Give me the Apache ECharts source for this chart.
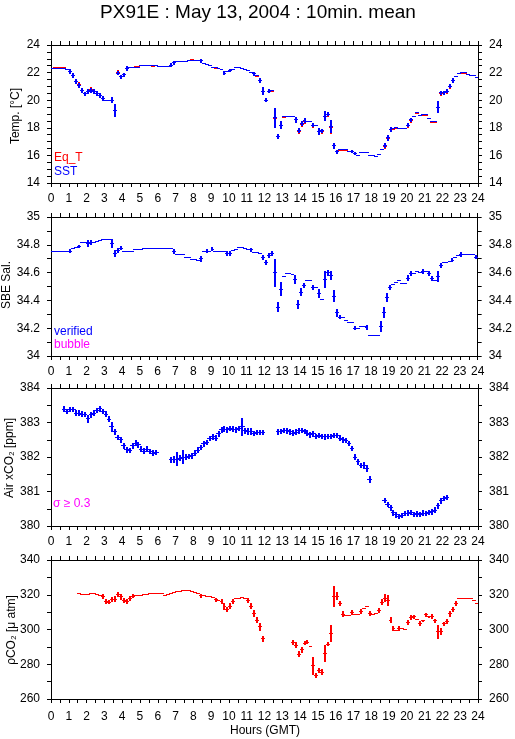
<!DOCTYPE html>
<html>
<head>
<meta charset="utf-8">
<title>PX91E : May 13, 2004 : 10min. mean</title>
<script src="https://cdn.jsdelivr.net/npm/echarts@6/dist/echarts.min.js"></script>
<style>
  html, body { margin: 0; padding: 0; background: #fff; }
  #main { width: 515px; height: 739px; }
</style>
</head>
<body>
<div id="main"></div>
<script>
// 10 min bins, 144 per day (null = no data)
var sst = [
  22.28, 22.28, 22.28, 22.28, 22.28, 22.22,
  22.05, 21.8, 21.38, 21.1, 20.7, 20.45,
  20.6, 20.7, 20.6, 20.5, 20.35, 20.15,
  20.0, 20.0, 20.0, 19.25, 21.95, 21.7,
  21.85, 22.3, 22.37, 22.37, 22.38, 22.4,
  22.5, 22.5, 22.5, 22.5, 22.5, 22.5,
  22.47, 22.45, 22.45, 22.45, 22.55, 22.7,
  22.8, 22.8, 22.8, 22.82, 22.88, 22.9,
  22.9, 22.9, 22.85, 22.68, 22.58, 22.5,
  22.4, 22.35, 22.33, 22.25, 21.95, 22.1,
  22.15, 22.2, 22.37, 22.37, 22.3, 22.25,
  22.15, 22.0, 21.9, 21.77, 21.43, 20.66,
  20.0, 20.66, 20.7, 18.74, 17.34, 18.18,
  18.8, 18.85, 18.85, 18.8, 18.57, 17.8,
  18.3, 18.52, 18.45, 18.45, 18.2, 18.15,
  17.7, 17.77, 18.85, 19.0, 18.1, 16.7,
  16.26, 16.43, 16.43, 16.43, 16.28, 16.28,
  16.16, 16.0, 16.24, 16.24, 16.24, 15.97,
  15.97, 15.9, 16.04, 16.43, 16.72, 17.27,
  17.87, 17.92, 17.99, 17.97, 17.97, 17.97,
  18.2, 18.57, 18.8, 19.1, 18.9, 18.95,
  18.95, 18.7, 18.45, 18.43, 19.5, 20.53,
  20.55, 20.66, 21.02, 21.43, 21.74, 21.93,
  21.98, 21.98, 21.86, 21.77, 21.77, 21.62
];
var eqT = [
  22.28, 22.35, 22.35, 22.35, 22.35, 22.22,
  22.05, 21.8, 21.38, 21.17, 20.7, 20.45,
  20.6, 20.77, 20.6, 20.5, 20.35, 20.15,
  20.0, 20.0, 20.0, 19.25, 22.02, 21.7,
  21.85, 22.3, 22.37, 22.37, 22.45, 22.47,
  22.5, 22.5, 22.5, 22.5, 22.45, 22.5,
  22.47, 22.45, 22.45, 22.45, 22.55, 22.7,
  22.8, 22.8, 22.8, 22.82, 22.88, 22.95,
  22.9, 22.85, 22.85, 22.68, 22.58, 22.5,
  22.4, 22.3, 22.33, 22.2, 21.95, 22.05,
  22.15, 22.2, 22.37, 22.37, 22.3, 22.25,
  22.15, 22.0, 21.9, 21.72, 21.43, 20.66,
  20.0, 20.66, 20.65, 18.7, 17.34, 18.18,
  18.75, 18.85, 18.85, 18.8, 18.57, 17.75,
  18.25, 18.47, 18.45, 18.45, 18.15, 18.15,
  17.7, 17.72, 18.85, 18.95, 18.05, 16.7,
  16.26, 16.38, 16.38, 16.38, 16.28, 16.28,
  16.16, 16.0, 16.24, 16.24, 16.24, 15.97,
  15.97, 15.9, 16.04, 16.43, 16.67, 17.22,
  17.87, 17.87, 17.94, 17.97, 17.97, 17.97,
  18.15, 18.52, 18.8, 19.05, 18.9, 18.9,
  18.9, 18.65, 18.4, 18.38, 19.5, 20.48,
  20.55, 20.61, 20.97, 21.43, 21.69, 21.93,
  21.93, 21.93, 21.86, 21.77, 21.77, 21.62
];
var salinity = [
  34.75, 34.75, 34.75, 34.75, 34.75, 34.75,
  34.755, 34.77, 34.78, 34.79, 34.82, 34.82,
  34.81, 34.82, 34.82, 34.825, 34.83, 34.835,
  34.835, 34.835, 34.81, 34.74, 34.76, 34.775,
  34.755, 34.755, 34.755, 34.755, 34.765, 34.765,
  34.765, 34.77, 34.77, 34.775, 34.775, 34.775,
  34.775, 34.775, 34.775, 34.775, 34.775, 34.755,
  34.727, 34.727, 34.727, 34.71, 34.71, 34.695,
  34.695, 34.685, 34.7, 34.75, 34.755, 34.755,
  34.767, 34.755, 34.755, 34.755, 34.755, 34.74,
  34.74, 34.76, 34.767, 34.78, 34.78, 34.775,
  34.765, 34.765, 34.745, 34.745, 34.74, 34.71,
  34.67, 34.725, 34.74, 34.6, 34.35, 34.48,
  34.575, 34.59, 34.59, 34.585, 34.55, 34.37,
  34.46, 34.51, 34.54, 34.54, 34.49, 34.49,
  34.45, 34.41, 34.55, 34.6, 34.58, 34.43,
  34.31, 34.28, 34.28, 34.255, 34.24, 34.24,
  34.2, 34.2, 34.21, 34.21, 34.205, 34.15,
  34.15, 34.15, 34.15, 34.21, 34.31, 34.42,
  34.49, 34.515, 34.53, 34.54, 34.52, 34.52,
  34.56, 34.59, 34.59, 34.61, 34.6, 34.61,
  34.61, 34.59, 34.56, 34.545, 34.575, 34.65,
  34.67, 34.67, 34.68, 34.69, 34.71, 34.72,
  34.73, 34.73, 34.73, 34.73, 34.727, 34.71
];
var airXco2 = [
  null, null, null, null, 383.39, 383.32,
  383.37, 383.37, 383.27, 383.27, 383.24, 383.23,
  383.11, 383.22, 383.27, 383.35, 383.4, 383.32,
  383.24, 383.1, 382.87, 382.73, 382.57, 382.5,
  382.32, 382.21, 382.19, 382.32, 382.4, 382.35,
  382.23, 382.17, 382.23, 382.16, 382.11, 382.13,
  null, null, null, null, 381.92, 381.94,
  381.94, 381.97, 382.0, 382.0, 382.01, 382.03,
  382.11, 382.2, 382.28, 382.38, 382.42, 382.54,
  382.58, 382.55, 382.67, 382.79, 382.81, 382.79,
  382.82, 382.81, 382.79, 382.82, 382.87, 382.76,
  382.74, 382.73, 382.68, 382.71, 382.71, 382.71,
  null, null, null, null, 382.73, 382.74,
  382.77, 382.76, 382.73, 382.69, 382.72, 382.76,
  382.77, 382.74, 382.69, 382.64, 382.67, 382.6,
  382.62, 382.6, 382.58, 382.6, 382.6, 382.62,
  382.63, 382.55, 382.5, 382.48, 382.39, 382.25,
  382.0, 381.86, 381.75, 381.75, 381.67, 381.35,
  null, null, null, null, 380.74, 380.62,
  380.53, 380.38, 380.32, 380.27, 380.31, 380.36,
  380.37, 380.39, 380.33, 380.35, 380.34, 380.37,
  380.36, 380.39, 380.41, 380.46, 380.58, 380.73,
  380.8, 380.83, null, null, null, null,
  null, null, null, null, null, null
];
var pco2 = [
  null, null, null, null, null, null,
  null, null, null, 320.9, 320.3, 320.0,
  320.2, 320.7, 320.7, 320.4, 319.8, 318.8,
  316.1, 315.8, 317.1, 317.4, 320.0, 318.8,
  316.5, 316.1, 318.0, 319.2, 319.3, 319.6,
  319.8, 320.3, 320.4, 320.5, 320.9, 320.9,
  320.9, 320.5, 319.8, 319.9, 320.7, 321.5,
  322.1, 322.1, 322.2, 322.6, 322.6, 322.0,
  321.4, 320.5, 319.3, 319.6, 319.1, 319.0,
  318.3, 317.0, 316.9, 316.2, 313.3, 311.7,
  313.4, 316.1, 317.6, 318.0, 318.6, 318.0,
  316.7, 313.5, 309.1, 305.4, 301.5, 294.7,
  null, null, null, null, null, null,
  null, null, null, 292.6, 291.0, 285.8,
  288.3, 292.2, 292.8, 290.4, 279.1, 273.5,
  276.4, 275.4, 286.2, 291.6, 297.8, 319.0,
  319.0, 315.1, 308.8, 308.0, 308.2, 309.7,
  308.6, 308.6, 310.3, 312.2, 313.0, 309.3,
  308.8, 309.0, 311.1, 315.7, 318.0, 316.7,
  305.3, 300.7, 299.7, 300.7, 300.7, 299.9,
  304.1, 306.8, 307.2, 305.5, 303.6, 304.9,
  308.4, 307.2, 307.6, 304.9, 298.8, 298.8,
  303.2, 304.5, 309.0, 311.5, 315.1, 318.0,
  318.0, 318.0, 318.0, 317.6, 316.6, 315.0
];

// standard deviations: [bin, sd]; other bins use the default
var sstErr = [[6,0.18],[7,0.18],[8,0.18],[9,0.18],[10,0.18],[11,0.18],[12,0.18],[13,0.18],[14,0.18],
  [15,0.18],[16,0.18],[17,0.18],[20,0.2],[21,0.45],[22,0.15],[23,0.15],[24,0.15],[25,0.15],[40,0.12],
  [41,0.12],[50,0.12],[58,0.15],[60,0.12],[68,0.15],[70,0.15],[71,0.3],[72,0.15],[73,0.15],[75,0.72],
  [76,0.18],[77,0.3],[82,0.2],[83,0.18],[84,0.18],[85,0.18],[88,0.15],[90,0.25],[91,0.15],[92,0.35],
  [93,0.15],[94,0.5],[95,0.2],[96,0.15],[101,0.12],[102,0.12],[112,0.18],[113,0.2],[114,0.18],
  [120,0.15],[121,0.15],[130,0.45],[131,0.15],[132,0.15],[133,0.15],[134,0.15],[135,0.15]];
var salErr = [[6,0.012],[9,0.012],[12,0.025],[13,0.018],[20,0.03],[21,0.025],[22,0.018],[23,0.015],
  [41,0.018],[50,0.022],[52,0.015],[54,0.015],[59,0.018],[60,0.018],[67,0.015],[71,0.02],[72,0.018],
  [73,0.018],[74,0.018],[75,0.1],[76,0.035],[77,0.05],[82,0.035],[83,0.035],[84,0.03],[85,0.018],
  [88,0.018],[90,0.03],[92,0.06],[93,0.022],[94,0.03],[95,0.045],[96,0.03],[97,0.015],[102,0.015],
  [106,0.015],[111,0.04],[112,0.04],[113,0.03],[114,0.018],[120,0.022],[121,0.018],[125,0.018],
  [127,0.018],[128,0.018],[130,0.04],[131,0.018],[135,0.015],[138,0.015],[143,0.015]];
var airErr = [[4,0.1],[12,0.11],[16,0.09],[20,0.14],[41,0.1],[42,0.2],[44,0.2],[64,0.27],[66,0.1],
  [67,0.1],[88,0.09],[102,0.09],[105,0.1],[106,0.1],[107,0.09],[114,0.09],[117,0.08]];
var pco2Err = [[17,1.5],[18,1.6],[19,1.3],[20,1.5],[21,1.6],[22,1.5],[23,1.8],[24,1.5],[25,1.3],
  [26,1.5],[27,1.3],[50,1.3],[55,1.3],[57,1.5],[58,1.8],[59,1.5],[60,1.7],[61,1.5],[66,1.3],
  [67,1.6],[68,2.0],[69,1.6],[70,2.2],[71,1.8],[81,1.3],[82,1.8],[83,1.8],[84,1.8],[85,1.3],
  [86,1.3],[88,5.3],[89,1.3],[90,1.5],[91,1.6],[92,5.0],[93,1.3],[94,5.0],[95,5.8],[96,2.3],
  [97,1.5],[98,1.8],[101,1.3],[104,1.3],[107,1.3],[110,1.5],[111,1.8],[112,2.2],[113,3.3],
  [114,1.8],[115,1.5],[117,1.3],[120,1.5],[121,1.3],[122,1.3],[124,1.3],[126,1.3],[128,1.3],
  [129,1.3],[130,4.0],[131,1.8],[132,1.3],[133,1.5],[134,1.6],[135,1.5],[136,1.5]];

var hourTicks = [0, 24];

var FONT = '"Liberation Sans", Arial, Helvetica, sans-serif';
var BLUE = '#0000ff', RED = '#ff0000', MAGENTA = '#ff00ff';

function points(vals, sdDefault, sdList) {
  var sd = {};
  sdList.forEach(function (p) { sd[p[0]] = p[1]; });
  var out = [];
  for (var i = 0; i < vals.length; i++) {
    if (vals[i] == null) continue;
    out.push([(i + 0.5) / 6, vals[i], sd[i] != null ? sd[i] : sdDefault]);
  }
  return out;
}

// cross: horizontal arm = time bin (1px), vertical arm = +-sd (2px)
function crossSeries(name, gi, data, color, hw) {
  return {
    type: 'custom',
    name: name,
    xAxisIndex: 2 * gi,
    yAxisIndex: 2 * gi,
    clip: true,
    data: data,
    encode: { x: 0, y: 1 },
    renderItem: function (params, api) {
      var t = api.value(0), v = api.value(1), e = api.value(2);
      var l = api.coord([t - hw, v]), r = api.coord([t + hw, v]);
      var up = api.coord([t, v + e]), dn = api.coord([t, v - e]);
      var y = Math.round(l[1] - 0.5);
      var x = Math.round(up[0]) - 1;
      var x0 = Math.round(l[0]), x1 = Math.round(r[0]);
      var y0 = Math.round(up[1]), y1 = Math.round(dn[1]);
      var fill = { fill: color, stroke: null };
      var kids = [
        { type: 'rect', shape: { x: x0, y: y, width: Math.max(1, x1 - x0), height: 1 }, style: fill }
      ];
      if (y1 - y0 >= 2) {
        kids.push({ type: 'rect', shape: { x: x, y: y0, width: 2, height: y1 - y0 }, style: fill });
      }
      return { type: 'group', children: kids };
    }
  };
}

var panels = [
  { top: 45, height: 138, min: 14, max: 24, interval: 2, minor: 4, margin: 10 },
  { top: 217, height: 139, min: 34, max: 35, interval: 0.2, minor: 2, margin: 10 },
  { top: 388, height: 138, min: 380, max: 384, interval: 1, minor: 2, margin: 10 },
  { top: 560, height: 139, min: 260, max: 340, interval: 20, minor: 2, margin: 12 }
];

var black = { color: '#000', width: 1 };
var grids = [], xAxes = [], yAxes = [];
panels.forEach(function (p, k) {
  grids.push({ left: 51, width: 427, top: p.top, height: p.height });
  ['bottom', 'top'].forEach(function (pos) {
    xAxes.push({
      type: 'value', gridIndex: k, position: pos,
      min: hourTicks[0], max: hourTicks[1], interval: 1,
      axisLine: { onZero: false, lineStyle: black },
      axisTick: { inside: false, length: 4, lineStyle: black },
      minorTick: { show: true, splitNumber: 2, length: 4, lineStyle: black },
      splitLine: { show: false },
      axisLabel: { show: pos === 'bottom', color: '#000', fontSize: 12, fontFamily: FONT, margin: p.margin }
    });
  });
  ['left', 'right'].forEach(function (pos) {
    yAxes.push({
      type: 'value', gridIndex: k, position: pos,
      min: p.min, max: p.max, interval: p.interval,
      axisLine: { show: true, onZero: false, lineStyle: black },
      axisTick: { show: true, inside: false, length: 4, lineStyle: black },
      minorTick: { show: true, splitNumber: p.minor, length: 4, lineStyle: black },
      splitLine: { show: false },
      axisLabel: {
        color: '#000', fontSize: 12, fontFamily: FONT, margin: 11,
        formatter: function (v) { return String(Math.round(v * 10) / 10); }
      }
    });
  });
});

function txt(x, y, s, color, opts) {
  opts = opts || {};
  return {
    type: 'text', x: x, y: y, rotation: opts.rot || 0, silent: true,
    style: {
      text: s, fill: color || '#000',
      font: (opts.size || 12) + 'px ' + FONT,
      textAlign: opts.align || 'left', textVerticalAlign: 'middle'
    }
  };
}

var chart = echarts.init(document.getElementById('main'), null, { renderer: 'canvas' });
chart.setOption({
  animation: false,
  backgroundColor: '#fff',
  grid: grids,
  xAxis: xAxes,
  yAxis: yAxes,
  graphic: [
    txt(258, 13, 'PX91E : May 13, 2004 : 10min. mean', '#000', { size: 19, align: 'center' }),
    txt(16, 116, 'Temp. [°C]', '#000', { rot: Math.PI / 2, align: 'center' }),
    txt(7, 285, 'SBE Sal.', '#000', { rot: Math.PI / 2, align: 'center' }),
    txt(10, 458, 'Air xCO₂ [ppm]', '#000', { rot: Math.PI / 2, align: 'center' }),
    txt(12, 630, 'ρCO₂ [μ atm]', '#000', { rot: Math.PI / 2, align: 'center' }),
    txt(265, 731, 'Hours (GMT)', '#000', { align: 'center' }),
    txt(54, 158, 'Eq_T', RED),
    txt(54, 172, 'SST', BLUE),
    txt(54, 332, 'verified', BLUE),
    txt(54, 345, 'bubble', MAGENTA),
    txt(53, 504, 'σ ≥ 0.3', MAGENTA)
  ],
  series: [
    crossSeries('Eq_T', 0, points(eqT, 0.02, sstErr), RED, 0.11),
    crossSeries('SST', 0, points(sst, 0.02, sstErr), BLUE, 0.11),
    crossSeries('verified', 1, points(salinity, 0.003, salErr), BLUE, 0.11),
    crossSeries('Air xCO2', 2, points(airXco2, 0.08, airErr), BLUE, 0.13),
    crossSeries('pCO2', 3, points(pco2, 0.3, pco2Err), RED, 0.11)
  ]
});
</script>
</body>
</html>
